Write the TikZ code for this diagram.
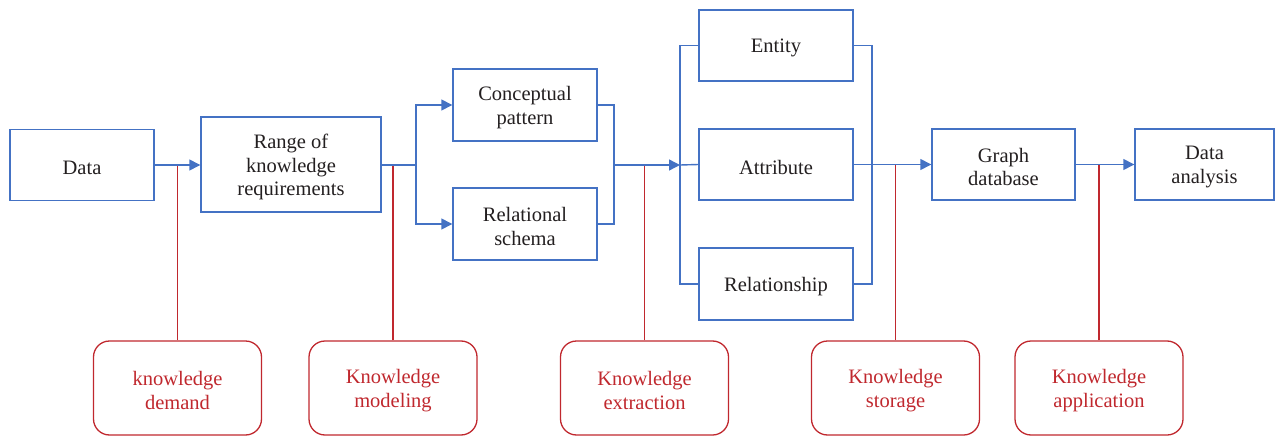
\documentclass[tikz,border=0pt]{standalone}
\usepackage{fontspec}
\setmainfont{Liberation Serif}
\usetikzlibrary{arrows.meta}
\definecolor{flowblue}{HTML}{4472C4}
\definecolor{stagered}{HTML}{C0282E}
\definecolor{ink}{HTML}{231F20}
\begin{document}
\begin{tikzpicture}[x=1pt,y=-1pt,
  txt/.style={align=center,inner sep=0pt,font=\rmfamily\fontsize{20.5}{23.5}\selectfont,yshift=-2.5pt},
  blk/.style={draw=flowblue,line width=1.4pt,rectangle,inner sep=0pt,
    label={[txt,text=ink]center:#1}},
  stage/.style={draw=stagered,line width=1.3pt,rounded corners=16pt,rectangle,inner sep=0pt,
    minimum width=168pt,minimum height=94pt,label={[txt,text=stagered]center:#1}},
  link/.style={draw=flowblue,line width=1.4pt},
  arr/.style={link,-{Triangle[length=11pt,width=11pt]}},
  tie/.style={draw=stagered,line width=1.5pt}]
\useasboundingbox (0,0) rectangle (1275,436);

% process blocks
\node[blk={Data},minimum width=144pt,minimum height=71pt] (data) at (82,165) {};
\node[blk={Range of\\knowledge\\requirements},minimum width=180pt,minimum height=95pt] (range) at (291,164.5) {};
\node[blk={Conceptual\\pattern},minimum width=144pt,minimum height=72pt] (concept) at (525,105) {};
\node[blk={Relational\\schema},minimum width=144pt,minimum height=72pt] (schema) at (525,224) {};
\node[blk={Entity},minimum width=154pt,minimum height=71pt] (entity) at (776,45.5) {};
\node[blk={Attribute},minimum width=154pt,minimum height=71pt] (attr) at (776,164.5) {};
\node[blk={Relationship},minimum width=154pt,minimum height=72pt] (rel) at (776,284) {};
\node[blk={Graph\\database},minimum width=143pt,minimum height=71pt] (graph) at (1003.5,164.5) {};
\node[blk={Data\\analysis},minimum width=139pt,minimum height=71pt] (analysis) at (1204.5,164.5) {};

% stage labels
\node[stage={knowledge\\demand}] (demand) at (177.5,388) {};
\node[stage={Knowledge\\modeling}] (modeling) at (393,388) {};
\node[stage={Knowledge\\extraction}] (extraction) at (644.5,388) {};
\node[stage={Knowledge\\storage}] (storage) at (895.5,388) {};
\node[stage={Knowledge\\application}] (application) at (1099,388) {};

% junction points
\coordinate (s1) at (416,165);
\coordinate (j1) at (614,165);
\coordinate (s2) at (680,165);
\coordinate (j2) at (872,165);

% ties from stages to the main flow
\draw[tie] (demand.north) -- (demand.north |- data.east);
\draw[tie] (modeling.north) -- (modeling.north |- s1);
\draw[tie] (extraction.north) -- (extraction.north |- j1);
\draw[tie] (storage.north) -- (storage.north |- attr.east);
\draw[tie] (application.north) -- (application.north |- graph.east);

% main flow
\draw[arr] (data.east) -- (range.west |- data.east);
\draw[link] (range.east |- s1) -- (s1);
\draw[arr] (s1) |- (concept.west);
\draw[arr] (s1) |- (schema.west);
\draw[link] (concept.east) -| (j1) |- (schema.east);
\draw[arr] (j1) -- (s2);
\draw[link] (entity.west) -| (s2) |- (rel.west);
\draw[link] (s2) -- (attr.west);
\draw[link] (entity.east) -| (j2) |- (rel.east);
\draw[arr] (attr.east) -- (graph.west);
\draw[arr] (graph.east) -- (analysis.west);
\end{tikzpicture}
\end{document}
